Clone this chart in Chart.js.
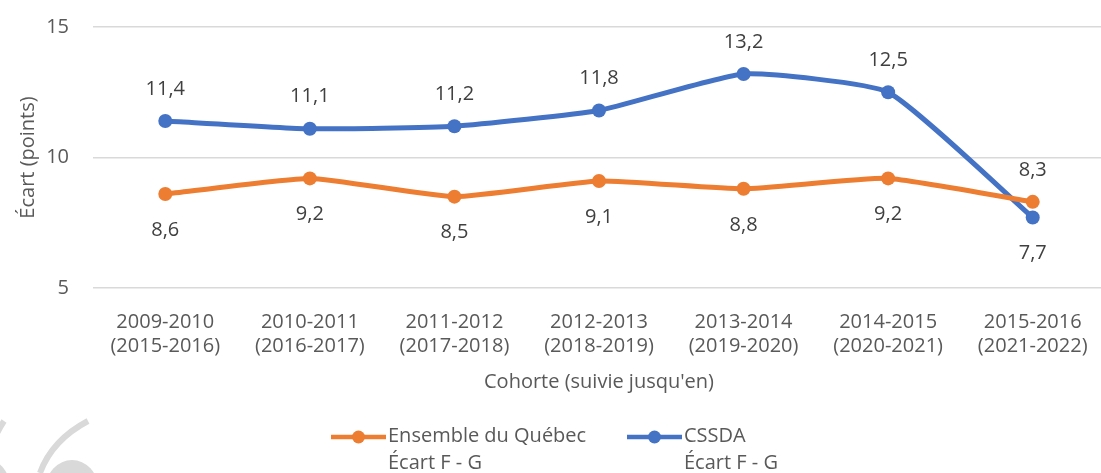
<!DOCTYPE html>
<html lang="fr">
<head>
<meta charset="utf-8">
<title>Écart F - G</title>
<script src="https://cdn.jsdelivr.net/npm/chart.js@4/dist/chart.umd.min.js"></script>
<style>
    html, body { margin: 0; padding: 0; background: #fff; overflow: hidden; }
    #wrap { width: 1101px; height: 473px; overflow: hidden; }
</style>
</head>
<body>
<div id="wrap"><canvas id="ecartChart" width="1112" height="473"></canvas></div>
<script>
// Données
const cohortes = [
    ['2009-2010', '(2015-2016)'],
    ['2010-2011', '(2016-2017)'],
    ['2011-2012', '(2017-2018)'],
    ['2012-2013', '(2018-2019)'],
    ['2013-2014', '(2019-2020)'],
    ['2014-2015', '(2020-2021)'],
    ['2015-2016', '(2021-2022)']
];
const ensembleQuebec = [8.6, 9.2, 8.5, 9.1, 8.8, 9.2, 8.3];
const cssda = [11.4, 11.1, 11.2, 11.8, 13.2, 12.5, 7.7];
const yTicks = [5, 10, 15];
const nomsSeries = [['Ensemble du Québec', 'Écart F - G'], ['CSSDA', 'Écart F - G']];

const ORANGE = '#ED7D31';
const BLEU = '#4472C4';
const GRIS_TEXTE = '#595959';
const POLICE = "'Open Sans', sans-serif";

// Étiquettes de valeurs (virgule décimale)
const etiquettesPlugin = {
    id: 'etiquettes',
    afterDatasetsDraw: (chart) => {
        const ctx = chart.ctx;
        ctx.save();
        ctx.font = '20px ' + POLICE;
        ctx.fillStyle = '#404040';
        ctx.textAlign = 'center';
        ctx.textBaseline = 'middle';
        chart.data.datasets.forEach((ds, i) => {
            const meta = chart.getDatasetMeta(i);
            meta.data.forEach((pt, j) => {
                const autre = chart.data.datasets[1 - i].data[j];
                const enHaut = ds.data[j] > autre;
                const y = enHaut ? pt.y - 32 : pt.y + 36;
                ctx.fillText(ds.data[j].toFixed(1).replace('.', ','), pt.x, y);
            });
        });
        ctx.restore();
    }
};

// Légende sur deux lignes + filigrane
const legendePlugin = {
    id: 'legende',
    afterDraw: (chart) => {
        const ctx = chart.ctx;
        ctx.save();
        // filigrane gris en bas à gauche
        ctx.strokeStyle = '#d9d9d9';
        ctx.fillStyle = '#d9d9d9';
        ctx.lineWidth = 6;
        ctx.beginPath();
        ctx.moveTo(88, 421);
        ctx.quadraticCurveTo(52, 440, 40, 473);
        ctx.stroke();
        ctx.beginPath();
        ctx.moveTo(4, 421);
        ctx.quadraticCurveTo(-2, 430, -6, 440);
        ctx.stroke();
        ctx.beginPath();
        ctx.ellipse(72, 488, 26, 28, 0, 0, Math.PI * 2);
        ctx.fill();
        ctx.beginPath();
        ctx.ellipse(-12, 488, 22, 28, 0, 0, Math.PI * 2);
        ctx.fill();

        const items = [
            { x: 331, couleur: ORANGE, texte: nomsSeries[0] },
            { x: 627, couleur: BLEU, texte: nomsSeries[1] }
        ];
        ctx.font = '20px ' + POLICE;
        ctx.textBaseline = 'middle';
        ctx.textAlign = 'left';
        items.forEach(it => {
            ctx.strokeStyle = it.couleur;
            ctx.lineWidth = 4.5;
            ctx.beginPath();
            ctx.moveTo(it.x, 437);
            ctx.lineTo(it.x + 55, 437);
            ctx.stroke();
            ctx.fillStyle = it.couleur;
            ctx.beginPath();
            ctx.arc(it.x + 27.5, 437, 6.5, 0, Math.PI * 2);
            ctx.fill();
            ctx.fillStyle = GRIS_TEXTE;
            ctx.fillText(it.texte[0], it.x + 57, 436);
            ctx.fillText(it.texte[1], it.x + 57, 463);
        });
        ctx.restore();
    }
};

const ctx = document.getElementById('ecartChart').getContext('2d');
const ecartChart = new Chart(ctx, {
    type: 'line',
    data: {
        labels: cohortes,
        datasets: [{
            label: 'Ensemble du Québec Écart F - G',
            data: ensembleQuebec,
            borderColor: ORANGE,
            backgroundColor: ORANGE,
            borderWidth: 5,
            pointRadius: 7,
            pointBorderWidth: 0,
            tension: 0.15
        }, {
            label: 'CSSDA Écart F - G',
            data: cssda,
            borderColor: BLEU,
            backgroundColor: BLEU,
            borderWidth: 5,
            pointRadius: 7,
            pointBorderWidth: 0,
            tension: 0.15
        }]
    },
    options: {
        responsive: false,
        animation: false,
        layout: {
            padding: { top: 27, bottom: 75, left: 0, right: 0 }
        },
        plugins: {
            legend: { display: false },
            tooltip: { enabled: false }
        },
        scales: {
            x: {
                offset: true,
                afterFit: (scale) => { scale.height = 110; },
                grid: { display: false, drawTicks: false, offset: true },
                border: { display: false },
                ticks: {
                    color: GRIS_TEXTE,
                    font: { family: POLICE, size: 20 },
                    padding: 22,
                    maxRotation: 0,
                    autoSkip: false
                },
                title: {
                    display: true,
                    text: 'Cohorte (suivie jusqu\'en)',
                    color: GRIS_TEXTE,
                    font: { family: POLICE, size: 20 },
                    padding: { top: 0, bottom: 4 }
                }
            },
            y: {
                min: 5,
                max: 15,
                afterFit: (scale) => {
                    scale.width = 93;
                    scale.paddingTop = 0;
                    scale.paddingBottom = 0;
                },
                afterBuildTicks: (scale) => {
                    scale.ticks = yTicks.map(v => ({ value: v }));
                },
                grid: { color: '#d9d9d9', lineWidth: 1.5, drawTicks: false },
                border: { display: false },
                ticks: {
                    color: GRIS_TEXTE,
                    font: { family: POLICE, size: 20 },
                    padding: 24
                },
                title: {
                    display: true,
                    text: 'Écart (points)',
                    color: GRIS_TEXTE,
                    font: { family: POLICE, size: 20 },
                    padding: { top: 16, bottom: 0 }
                }
            }
        }
    },
    plugins: [etiquettesPlugin, legendePlugin]
});
</script>
</body>
</html>
